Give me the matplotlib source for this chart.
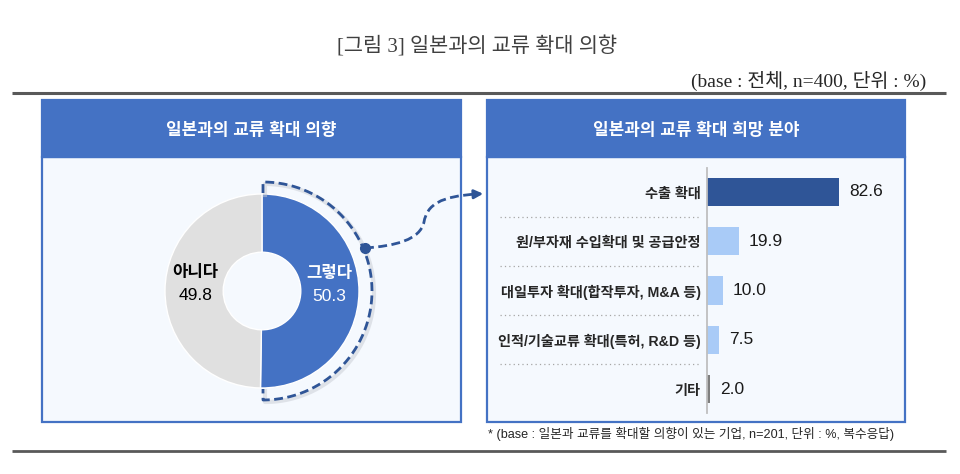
import matplotlib
matplotlib.use("Agg")
import matplotlib.pyplot as plt
from matplotlib.patches import Rectangle, PathPatch
from matplotlib.path import Path
from matplotlib.transforms import blended_transform_factory
import numpy as np

plt.rcParams['font.family'] = ['Liberation Sans', 'Noto Sans CJK KR', 'DejaVu Sans']

# donut data
pie_labels = ['그렇다', '아니다']
pie_values = [50.3, 49.8]
pie_colors = ['#4472c4', '#e0e0e0']
pie_text_colors = ['white', 'black']

# bar data
bar_labels = ['수출 확대', '원/부자재 수입확대 및 공급안정', '대일투자 확대(합작투자, M&A 등)',
              '인적/기술교류 확대(특허, R&D 등)', '기타']
bar_values = [82.6, 19.9, 10.0, 7.5, 2.0]
bar_colors = ['#2f5597', '#a9cbf7', '#a9cbf7', '#a9cbf7', '#7f7f7f']

title = '[그림 3] 일본과의 교류 확대 의향'
subtitle = '(base : 전체, n=400, 단위 : %)'
left_header = '일본과의 교류 확대 의향'
right_header = '일본과의 교류 확대 희망 분야'
footnote = '* (base : 일본과 교류를 확대할 의향이 있는 기업, n=201, 단위 : %, 복수응답)'

W, H = 960, 474
BLUE = '#4472c4'
DARK = '#2f5597'


def rect(x0, y0, x1, y1):
    # pixel box (top-left origin) -> figure fraction rect
    return [x0 / W, 1 - y1 / H, (x1 - x0) / W, (y1 - y0) / H]


fig = plt.figure(figsize=(9.6, 4.74), dpi=100)
fig.patch.set_facecolor('white')

# background canvas in pixel units
bg = fig.add_axes([0, 0, 1, 1], zorder=0)
bg.set_xlim(0, W)
bg.set_ylim(H, 0)
bg.axis('off')

bg.text(477, 47, title, ha='center', va='center', fontsize=15, color='#404040',
        family=['Liberation Serif', 'Noto Sans CJK KR'])
bg.text(926, 81, subtitle, ha='right', va='center', fontsize=14, color='#262626',
        family=['Liberation Serif', 'Noto Sans CJK KR'])
bg.plot([12, 946], [93, 93], color='#595959', lw=2.2, solid_capstyle='butt')
bg.plot([12, 946], [451, 451], color='#595959', lw=2.0, solid_capstyle='butt')

for (x0, x1), head in [((42, 461), left_header), ((487, 905), right_header)]:
    bg.add_patch(Rectangle((x0, 157), x1 - x0, 265, facecolor='#f5f9fe',
                           edgecolor=BLUE, lw=1.6))
    bg.add_patch(Rectangle((x0, 100), x1 - x0, 57, facecolor=BLUE, edgecolor=BLUE, lw=1.6))
    bg.text((x0 + x1) / 2, 130, head, ha='center', va='center', color='white',
            fontsize=12.2, fontweight='bold')

bg.text(488, 434, footnote, ha='left', va='center', fontsize=9.1, color='#262626')

# donut
cx, cy, R = 262, 291, 97
ax_pie = fig.add_axes(rect(cx - R, cy - R, cx + R, cy + R), zorder=2)
wedges, _ = ax_pie.pie(pie_values, colors=pie_colors, startangle=90, counterclock=False,
                       radius=1.0, wedgeprops=dict(width=0.6, edgecolor='white', linewidth=1))
ax_pie.set_xlim(-1, 1)
ax_pie.set_ylim(-1, 1)
ax_pie.set_facecolor('none')
for w, lab, val, tc in zip(wedges, pie_labels, pie_values, pie_text_colors):
    ang = np.deg2rad((w.theta1 + w.theta2) / 2)
    x = 0.69 * np.cos(ang)
    y = 0.69 * np.sin(ang) + 0.067
    ax_pie.text(x, y + 0.12, lab, ha='center', va='center', color=tc, fontsize=12,
                fontweight='bold')
    ax_pie.text(x, y - 0.12, f'{val:.1f}', ha='center', va='center', color=tc, fontsize=12.5)

# bars
x0_bar, px_per_unit = 707, 1.6
ax_bar = fig.add_axes(rect(x0_bar, 168, 897, 413), zorder=2)
ypos = np.arange(len(bar_values))
ax_bar.barh(ypos, bar_values, height=0.57, color=bar_colors)
ax_bar.set_xlim(0, 190 / px_per_unit)
ax_bar.set_ylim(len(bar_values) - 0.515, -0.485)
ax_bar.set_facecolor('none')
for s in ['top', 'right', 'bottom']:
    ax_bar.spines[s].set_visible(False)
ax_bar.spines['left'].set_color('#bfbfbf')
ax_bar.spines['left'].set_linewidth(1.3)
ax_bar.set_xticks([])
ax_bar.set_yticks(ypos)
ax_bar.set_yticklabels(bar_labels, fontsize=10.2, color='#262626', fontweight='bold')
ax_bar.tick_params(axis='y', length=0, pad=4.5)
for y, v in zip(ypos, bar_values):
    ax_bar.text(v + 6.2, y, f'{v:.1f}', ha='left', va='center', fontsize=12.5, color='#1a1a1a')
sep = blended_transform_factory(fig.transFigure, ax_bar.transData)
for y in ypos[:-1] + 0.5:
    ax_bar.plot([500 / W, 700 / W], [y, y], transform=sep, color='#a6a6a6', lw=0.9,
                ls=(0, (1, 2.5)), clip_on=False)

# foreground: dashed bracket and connector arrow
fg = fig.add_axes([0, 0, 1, 1], zorder=5)
fg.set_xlim(0, W)
fg.set_ylim(H, 0)
fg.axis('off')
fg.patch.set_visible(False)

ra = 109
t = np.linspace(np.pi / 2, -np.pi / 2, 200)
bx = np.concatenate([[cx + 1, cx + 1], cx + 1 + ra * np.cos(t), [cx + 1, cx + 1]])
by = np.concatenate([[cy - R - 1, cy - ra], cy - ra * np.sin(t), [cy + ra, cy + R + 1]])
fg.plot(bx + 2, by + 2, color='#c8ccd4', lw=3, alpha=0.5)
fg.plot(bx, by, color=DARK, lw=2, ls=(0, (3.2, 1.6)))

verts = [(365, 248), (395, 246), (420, 240), (424, 222),
         (427, 205), (440, 196), (478, 194)]
codes = [Path.MOVETO] + [Path.CURVE4] * 6
fg.add_patch(PathPatch(Path(verts, codes), facecolor='none', edgecolor=DARK, lw=2,
                       ls=(0, (3.2, 1.6))))
fg.annotate('', xy=(486, 193.6), xytext=(474, 194.2),
            arrowprops=dict(arrowstyle='-|>', color=DARK, lw=2, mutation_scale=13))
fg.plot([365], [248], 'o', color=DARK, ms=7)

fig.savefig('out.png', dpi=100)
